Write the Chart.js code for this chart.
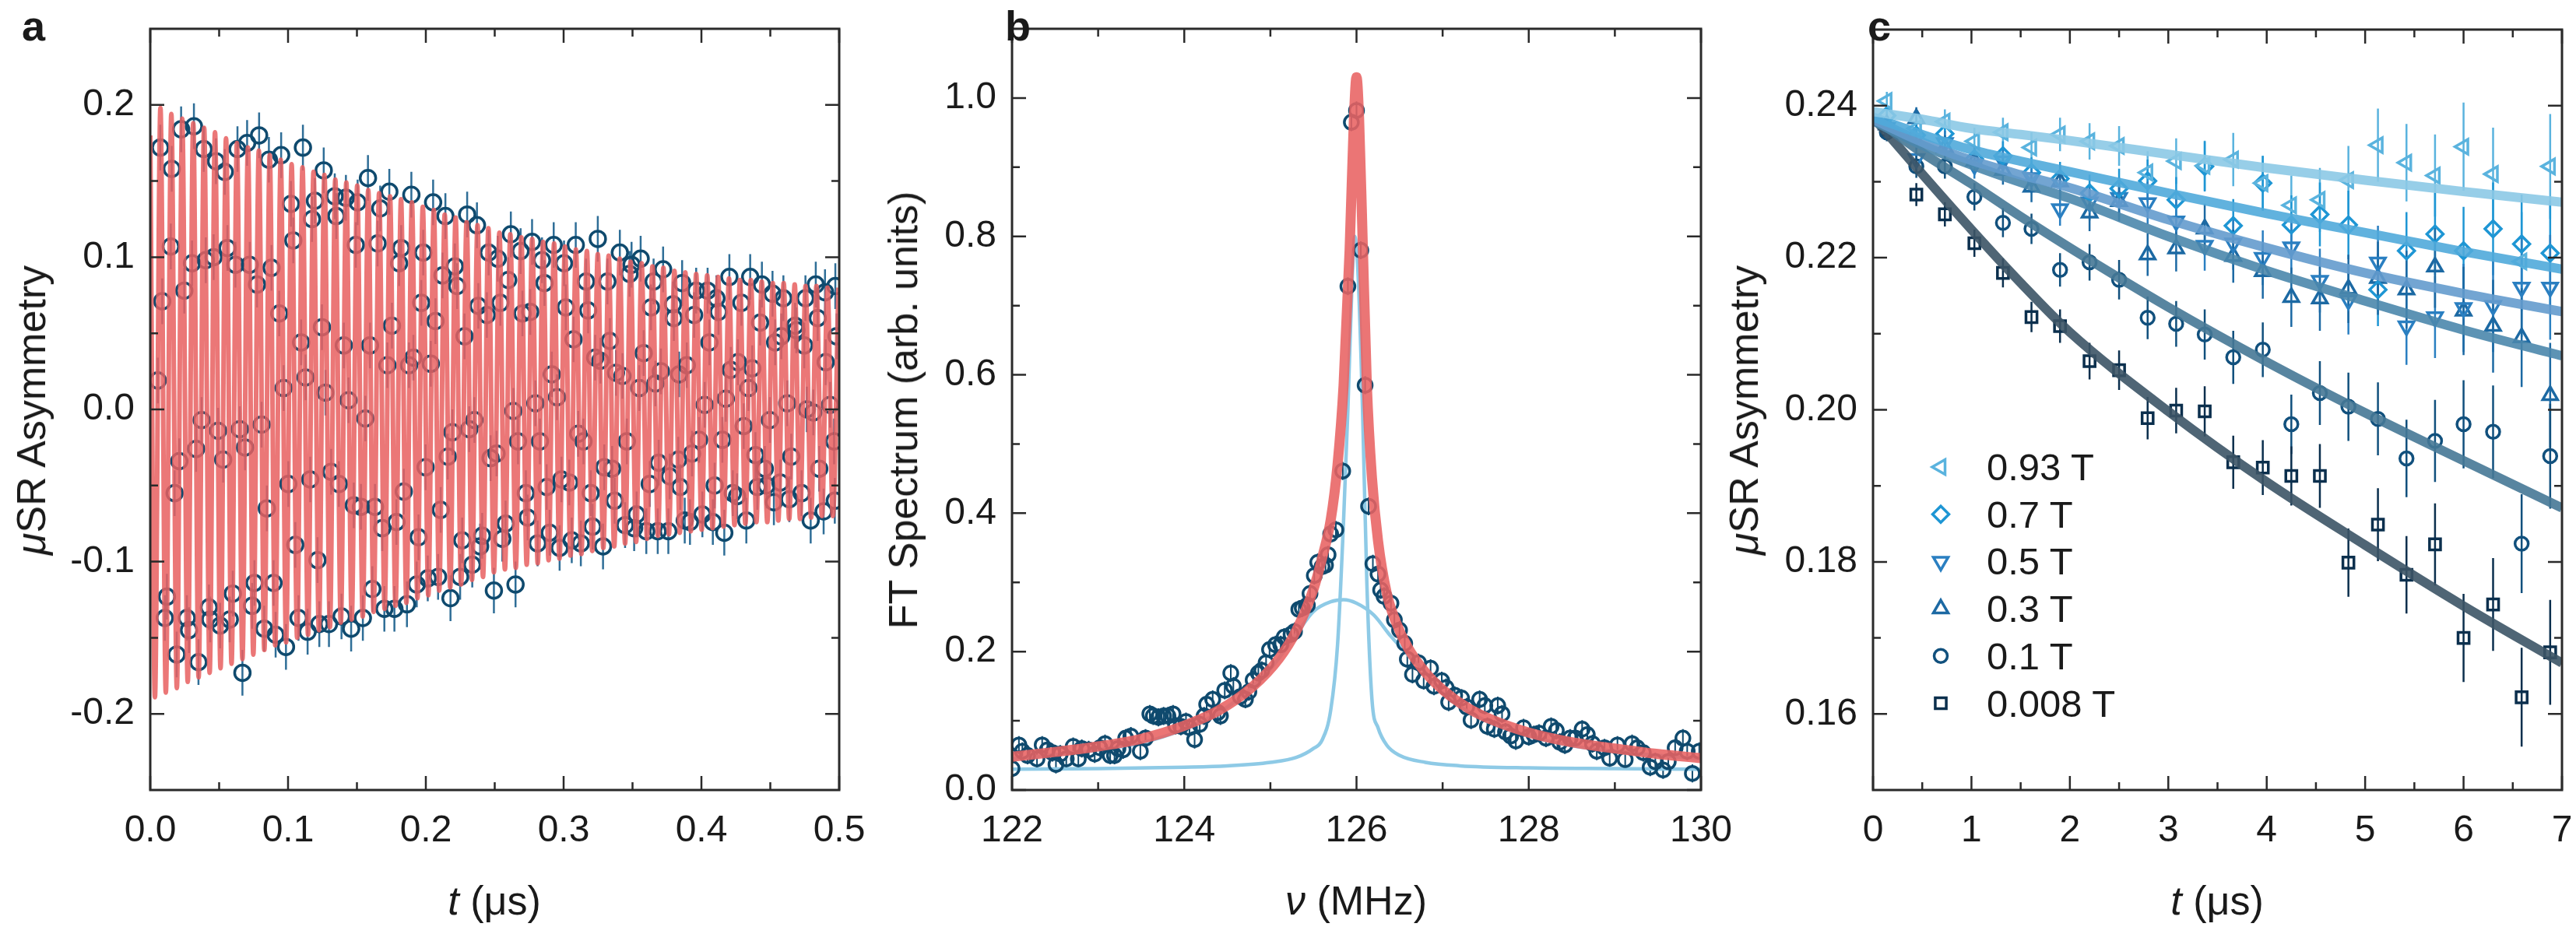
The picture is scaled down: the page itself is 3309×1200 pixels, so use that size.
<!DOCTYPE html>
<html>
<head>
<meta charset="utf-8">
<title>muSR precession, FT spectrum and field-dependent relaxation</title>
<script src="https://cdn.jsdelivr.net/npm/chart.js@4.4.1/dist/chart.umd.min.js"></script>
<style>
  html, body { margin: 0; background: #fff; overflow: hidden; }
  #page { position: relative; width: 3309px; height: 1200px; overflow: hidden;
          font-family: "Liberation Sans", Arial, Helvetica, sans-serif; color: #1a1a1a; }
  canvas { position: absolute; top: 0; }
  .letter { position: absolute; font-weight: bold; font-size: 54px; line-height: 54px; }
  .xtitle, .ytitle { position: absolute; font-size: 52px; line-height: 52px; white-space: nowrap;
          transform: translate(-50%, -50%); }
  .ytitle { transform: translate(-50%, -50%) rotate(-90deg); }
  .key { position: absolute; font-size: 49px; line-height: 49px; white-space: nowrap; }
</style>
</head>
<body>
<div id="page">
  <canvas id="chartA" width="1150" height="1200" style="left:0"></canvas>
  <canvas id="chartB" width="1150" height="1200" style="left:1100px"></canvas>
  <canvas id="chartC" width="1109" height="1200" style="left:2200px"></canvas>

  <div class="letter" style="left:28px;top:6px">a</div>
  <div class="letter" style="left:1291px;top:6px">b</div>
  <div class="letter" style="left:2399px;top:6px">c</div>

  <div class="ytitle" style="left:40px;top:527px"><i>μ</i>SR Asymmetry</div>
  <div class="xtitle" style="left:635px;top:1157px"><i>t</i> (μs)</div>
  <div class="ytitle" style="left:1160px;top:527px">FT Spectrum (arb. units)</div>
  <div class="xtitle" style="left:1742px;top:1157px"><i>ν</i> (MHz)</div>
  <div class="ytitle" style="left:2240px;top:527px"><i>μ</i>SR Asymmetry</div>
  <div class="xtitle" style="left:2848px;top:1157px"><i>t</i> (μs)</div>

  <div id="keys"></div>
</div>

<script>
// ---- panel a: transverse-field precession ----
const aTime = [
  0.0055, 0.0073, 0.0087, 0.0106, 0.0121, 0.0149, 0.0156, 0.0177, 0.0192, 0.0211,
  0.0224, 0.0247, 0.0266, 0.0281, 0.0303, 0.0317, 0.0333, 0.0350, 0.0373, 0.0388,
  0.0403, 0.0426, 0.0435, 0.0460, 0.0477, 0.0492, 0.0507, 0.0529, 0.0541, 0.0560,
  0.0577, 0.0599, 0.0618, 0.0633, 0.0650, 0.0669, 0.0688, 0.0703, 0.0722, 0.0739,
  0.0756, 0.0775, 0.0790, 0.0808, 0.0827, 0.0846, 0.0861, 0.0880, 0.0895, 0.0910,
  0.0936, 0.0950, 0.0968, 0.0985, 0.1002, 0.1021, 0.1038, 0.1053, 0.1076, 0.1095,
  0.1108, 0.1127, 0.1142, 0.1161, 0.1174, 0.1195, 0.1214, 0.1227, 0.1246, 0.1259,
  0.1272, 0.1297, 0.1313, 0.1339, 0.1350, 0.1369, 0.1388, 0.1405, 0.1420, 0.1439,
  0.1458, 0.1477, 0.1492, 0.1505, 0.1529, 0.1543, 0.1561, 0.1580, 0.1595, 0.1612,
  0.1631, 0.1650, 0.1669, 0.1684, 0.1699, 0.1721, 0.1735, 0.1754, 0.1772, 0.1787,
  0.1806, 0.1821, 0.1840, 0.1863, 0.1878, 0.1895, 0.1910, 0.1934, 0.1947, 0.1967,
  0.1981, 0.1998, 0.2014, 0.2036, 0.2053, 0.2070, 0.2089, 0.2108, 0.2121, 0.2142,
  0.2159, 0.2179, 0.2193, 0.2211, 0.2227, 0.2249, 0.2264, 0.2281, 0.2300, 0.2315,
  0.2337, 0.2353, 0.2371, 0.2381, 0.2394, 0.2409, 0.2443, 0.2456, 0.2470, 0.2494,
  0.2513, 0.2522, 0.2541, 0.2555, 0.2579, 0.2598, 0.2617, 0.2635, 0.2651, 0.2669,
  0.2688, 0.2701, 0.2726, 0.2739, 0.2758, 0.2771, 0.2795, 0.2811, 0.2828, 0.2843,
  0.2861, 0.2877, 0.2899, 0.2914, 0.2928, 0.2952, 0.2971, 0.2984, 0.3003, 0.3016,
  0.3041, 0.3059, 0.3072, 0.3088, 0.3106, 0.3125, 0.3144, 0.3163, 0.3178, 0.3197,
  0.3210, 0.3229, 0.3248, 0.3267, 0.3286, 0.3295, 0.3318, 0.3336, 0.3352, 0.3370,
  0.3380, 0.3408, 0.3427, 0.3446, 0.3459, 0.3479, 0.3493, 0.3512, 0.3530, 0.3549,
  0.3559, 0.3581, 0.3600, 0.3625, 0.3634, 0.3653, 0.3666, 0.3683, 0.3690, 0.3706,
  0.3722, 0.3760, 0.3770, 0.3794, 0.3800, 0.3832, 0.3838, 0.3846, 0.3860, 0.3879,
  0.3894, 0.3917, 0.3932, 0.3947, 0.3962, 0.3983, 0.4007, 0.4024, 0.4045, 0.4058,
  0.4083, 0.4096, 0.4109, 0.4124, 0.4152, 0.4166, 0.4177, 0.4203, 0.4213, 0.4228,
  0.4259, 0.4265, 0.4290, 0.4307, 0.4326, 0.4341, 0.4354, 0.4369, 0.4392, 0.4406,
  0.4426, 0.4439, 0.4460, 0.4473, 0.4497, 0.4516, 0.4526, 0.4535, 0.4573, 0.4580,
  0.4595, 0.4623, 0.4638, 0.4652, 0.4680, 0.4689, 0.4727, 0.4746, 0.4755, 0.4765,
  0.4793, 0.4812, 0.4830, 0.4844, 0.4855, 0.4887, 0.4897, 0.4902, 0.4934, 0.4963,
  0.4968, 0.4972, 0.4981
];
const aAsym = [
  0.019, 0.172, 0.071, -0.137, -0.123, 0.107, 0.158, -0.055, -0.161, -0.034,
  0.184, 0.078, -0.137, -0.145, 0.096, 0.186, -0.026, -0.166, -0.007, 0.171,
  0.098, -0.130, -0.138, 0.100, 0.163, -0.014, -0.142, -0.033, 0.156, 0.106,
  -0.138, -0.121, 0.095, 0.171, -0.013, -0.173, -0.025, 0.175, 0.095, -0.129,
  -0.114, 0.082, 0.180, -0.010, -0.144, -0.065, 0.164, 0.093, -0.114, -0.148,
  0.063, 0.167, 0.014, -0.156, -0.049, 0.135, 0.111, -0.089, -0.137, 0.044,
  0.172, 0.021, -0.146, -0.046, 0.125, 0.137, -0.099, -0.141, 0.054, 0.157,
  0.011, -0.141, -0.041, 0.140, 0.127, -0.049, -0.136, 0.042, 0.139, 0.006,
  -0.144, -0.063, 0.108, 0.136, -0.064, -0.137, -0.006, 0.152, 0.042, -0.118,
  -0.064, 0.109, 0.132, -0.078, -0.131, 0.029, 0.143, 0.055, -0.131, -0.074,
  0.096, 0.106, -0.054, -0.128, 0.029, 0.141, 0.034, -0.115, -0.084, 0.070,
  0.103, -0.038, -0.111, 0.030, 0.136, 0.058, -0.110, -0.066, 0.088, 0.127,
  -0.031, -0.124, -0.015, 0.094, 0.081, -0.110, -0.086, 0.048, 0.128, -0.013,
  -0.102, -0.007, 0.121, 0.068, -0.090, -0.083, 0.062, 0.103, -0.032, -0.119,
  -0.029, 0.099, 0.070, -0.085, -0.075, 0.085, 0.115, -0.001, -0.115, -0.021,
  0.104, 0.063, -0.055, -0.071, 0.064, 0.110, 0.004, -0.088, -0.021, 0.098,
  0.083, -0.051, -0.081, 0.023, 0.108, 0.008, -0.091, -0.046, 0.096, 0.067,
  -0.048, -0.086, 0.046, 0.108, -0.016, -0.088, -0.021, 0.084, 0.065, -0.055,
  -0.077, 0.034, 0.112, 0.032, -0.090, -0.038, 0.084, 0.045, -0.039, -0.060,
  0.024, 0.103, 0.022, -0.076, -0.021, 0.089, 0.095, -0.078, -0.069, 0.014,
  0.099, 0.037, -0.080, -0.049, 0.067, 0.084, 0.017, -0.080, -0.035, 0.025,
  0.092, -0.080, -0.044, 0.069, 0.060, -0.033, 0.023, -0.051, 0.083, -0.073,
  0.029, -0.074, -0.029, 0.062, 0.078, -0.020, -0.069, 0.003, 0.078, 0.044,
  -0.074, -0.050, 0.073, 0.064, -0.020, -0.081, 0.007, 0.087, 0.026, -0.055,
  -0.057, 0.031, 0.070, -0.011, -0.073, 0.014, 0.087, 0.027, -0.030, -0.051,
  0.057, 0.082, -0.039, -0.050, -0.007, 0.076, -0.061, 0.044, -0.048, 0.048,
  0.073, 0.004, -0.059, -0.031, 0.055, 0.052, -0.055, 0.042, 0.073, 0.000,
  -0.073, -0.002, 0.082, 0.060, -0.039, -0.067, 0.077, 0.031, 0.003, -0.021,
  -0.060, 0.081, 0.048
];
const aErr = 0.015;
// fit curve, read at its turning points
const aFitTime = [
  0.0000, 0.0034, 0.0074, 0.0113, 0.0153, 0.0193, 0.0232, 0.0272, 0.0312, 0.0351,
  0.0391, 0.0431, 0.0470, 0.0510, 0.0550, 0.0590, 0.0629, 0.0669, 0.0709, 0.0748,
  0.0788, 0.0828, 0.0867, 0.0907, 0.0947, 0.0986, 0.1026, 0.1066, 0.1105, 0.1145,
  0.1185, 0.1224, 0.1264, 0.1304, 0.1343, 0.1383, 0.1423, 0.1462, 0.1502, 0.1542,
  0.1582, 0.1621, 0.1661, 0.1701, 0.1740, 0.1780, 0.1820, 0.1859, 0.1899, 0.1939,
  0.1978, 0.2018, 0.2058, 0.2097, 0.2137, 0.2177, 0.2216, 0.2256, 0.2296, 0.2335,
  0.2375, 0.2415, 0.2454, 0.2494, 0.2534, 0.2574, 0.2613, 0.2653, 0.2693, 0.2732,
  0.2772, 0.2812, 0.2851, 0.2891, 0.2931, 0.2970, 0.3010, 0.3050, 0.3089, 0.3129,
  0.3169, 0.3208, 0.3248, 0.3288, 0.3327, 0.3367, 0.3407, 0.3446, 0.3486, 0.3526,
  0.3566, 0.3605, 0.3645, 0.3685, 0.3724, 0.3764, 0.3804, 0.3843, 0.3883, 0.3923,
  0.3962, 0.4002, 0.4042, 0.4081, 0.4121, 0.4161, 0.4200, 0.4240, 0.4280, 0.4319,
  0.4359, 0.4399, 0.4438, 0.4478, 0.4518, 0.4558, 0.4597, 0.4637, 0.4677, 0.4716,
  0.4756, 0.4796, 0.4835, 0.4875, 0.4915, 0.4954, 0.4994
];
const aFitAsym = [
  0.180, -0.189, 0.198, -0.186, 0.194, -0.183, 0.191, -0.179, 0.188, -0.176,
  0.185, -0.173, 0.182, -0.170, 0.178, -0.167, 0.175, -0.164, 0.172, -0.161,
  0.170, -0.158, 0.167, -0.155, 0.164, -0.153, 0.161, -0.150, 0.159, -0.148,
  0.156, -0.145, 0.154, -0.143, 0.151, -0.140, 0.149, -0.138, 0.147, -0.136,
  0.144, -0.133, 0.142, -0.131, 0.140, -0.129, 0.138, -0.127, 0.136, -0.124,
  0.133, -0.122, 0.131, -0.119, 0.128, -0.117, 0.126, -0.115, 0.123, -0.112,
  0.121, -0.110, 0.119, -0.107, 0.116, -0.105, 0.115, -0.104, 0.113, -0.102,
  0.112, -0.101, 0.110, -0.099, 0.109, -0.098, 0.107, -0.096, 0.105, -0.095,
  0.104, -0.093, 0.102, -0.091, 0.101, -0.090, 0.099, -0.088, 0.097, -0.087,
  0.096, -0.085, 0.094, -0.083, 0.093, -0.082, 0.091, -0.081, 0.090, -0.080,
  0.089, -0.079, 0.088, -0.078, 0.087, -0.077, 0.086, -0.076, 0.085, -0.075,
  0.085, -0.074, 0.084, -0.074, 0.083, -0.073, 0.083, -0.072, 0.082, -0.072,
  0.081, -0.071, 0.081, -0.070, 0.080, -0.070, 0.080
];
const aTicksX = [0, 0.1, 0.2, 0.3, 0.4, 0.5];
const aMinorX = [0.05, 0.15, 0.25, 0.35, 0.45];
const aTicksY = [-0.2, -0.1, 0, 0.1, 0.2];
const aMinorY = [-0.15, -0.05, 0.05, 0.15];

// ---- panel b: Fourier spectrum ----
const bFreq = [
  122.00, 122.08, 122.12, 122.18, 122.29, 122.35, 122.41, 122.47, 122.51, 122.56,
  122.63, 122.71, 122.77, 122.81, 122.89, 122.96, 123.02, 123.08, 123.14, 123.19,
  123.23, 123.29, 123.32, 123.38, 123.49, 123.55, 123.60, 123.64, 123.70, 123.76,
  123.81, 123.87, 123.90, 123.96, 124.02, 124.06, 124.12, 124.18, 124.23, 124.26,
  124.33, 124.39, 124.42, 124.47, 124.54, 124.57, 124.65, 124.71, 124.75, 124.80,
  124.86, 124.90, 124.95, 124.99, 125.06, 125.12, 125.16, 125.24, 125.28, 125.33,
  125.37, 125.43, 125.46, 125.51, 125.55, 125.60, 125.64, 125.67, 125.70, 125.76,
  125.84, 125.90, 125.94, 126.00, 126.05, 126.10, 126.14, 126.19, 126.25, 126.28,
  126.32, 126.40, 126.44, 126.50, 126.56, 126.59, 126.65, 126.72, 126.78, 126.86,
  126.90, 126.99, 127.04, 127.07, 127.14, 127.22, 127.28, 127.33, 127.43, 127.49,
  127.52, 127.60, 127.64, 127.69, 127.73, 127.79, 127.85, 127.94, 128.00, 128.06,
  128.12, 128.20, 128.26, 128.32, 128.36, 128.42, 128.48, 128.54, 128.62, 128.68,
  128.74, 128.79, 128.88, 128.94, 129.03, 129.12, 129.20, 129.26, 129.33, 129.41,
  129.47, 129.56, 129.62, 129.70, 129.79, 129.84, 129.90, 129.98
];
const bAmp = [
  0.031, 0.065, 0.056, 0.050, 0.045, 0.065, 0.058, 0.054, 0.037, 0.052,
  0.045, 0.063, 0.045, 0.060, 0.058, 0.052, 0.061, 0.067, 0.050, 0.050,
  0.060, 0.058, 0.075, 0.078, 0.056, 0.075, 0.110, 0.107, 0.105, 0.107,
  0.107, 0.110, 0.093, 0.092, 0.099, 0.090, 0.073, 0.095, 0.107, 0.124,
  0.131, 0.112, 0.107, 0.144, 0.169, 0.150, 0.135, 0.131, 0.142, 0.159,
  0.169, 0.173, 0.184, 0.203, 0.210, 0.210, 0.221, 0.225, 0.229, 0.261,
  0.263, 0.267, 0.284, 0.310, 0.329, 0.323, 0.325, 0.340, 0.370, 0.376,
  0.461, 0.728, 0.965, 0.982, 0.780, 0.585, 0.410, 0.327, 0.312, 0.289,
  0.280, 0.270, 0.246, 0.231, 0.212, 0.189, 0.167, 0.184, 0.158, 0.176,
  0.150, 0.158, 0.148, 0.127, 0.137, 0.133, 0.120, 0.101, 0.131, 0.122,
  0.092, 0.088, 0.122, 0.110, 0.084, 0.078, 0.071, 0.090, 0.077, 0.080,
  0.082, 0.075, 0.092, 0.086, 0.069, 0.065, 0.075, 0.075, 0.088, 0.080,
  0.067, 0.056, 0.061, 0.046, 0.065, 0.044, 0.067, 0.061, 0.054, 0.033,
  0.041, 0.029, 0.041, 0.061, 0.075, 0.056, 0.024, 0.056
];
const bErr = 0.013;
const bFitFreq = [122.0, 122.5, 123.0, 123.5, 124.0, 124.4, 124.8, 125.1, 125.3, 125.5,
  125.6, 125.7, 125.78, 125.85, 125.92, 125.97, 126.0, 126.03, 126.07, 126.12,
  126.18, 126.25, 126.35, 126.45, 126.6, 126.8, 127.0, 127.3, 127.6, 128.0,
  128.5, 129.0, 129.5, 130.0];
const bFitAmp = [0.048, 0.055, 0.063, 0.074, 0.093, 0.115, 0.150, 0.190, 0.230, 0.290,
  0.335, 0.390, 0.470, 0.585, 0.780, 0.970, 1.030, 0.970, 0.800, 0.585,
  0.450, 0.360, 0.285, 0.245, 0.205, 0.170, 0.145, 0.118, 0.100, 0.083,
  0.069, 0.060, 0.052, 0.046];
const bNarrowFreq = [122.0, 123.0, 124.0, 124.5, 125.0, 125.3, 125.5, 125.6, 125.7, 125.78,
  125.85, 125.9, 125.95, 125.98, 126.02, 126.07, 126.12, 126.18, 126.25, 126.35,
  126.5, 126.8, 127.2, 128.0, 129.0, 130.0];
const bNarrowAmp = [0.030, 0.031, 0.033, 0.035, 0.040, 0.047, 0.060, 0.072, 0.115, 0.210,
  0.390, 0.550, 0.740, 0.800, 0.740, 0.550, 0.300, 0.130, 0.090, 0.065,
  0.050, 0.040, 0.035, 0.032, 0.031, 0.030];
const bBroadFreq = [122.0, 123.0, 123.5, 124.0, 124.5, 125.0, 125.3, 125.5, 125.7, 125.85,
  126.0, 126.2, 126.4, 126.6, 126.8, 127.0, 127.5, 128.0, 128.5, 129.0, 129.5, 130.0];
const bBroadAmp = [0.045, 0.058, 0.068, 0.088, 0.120, 0.175, 0.225, 0.258, 0.272, 0.275,
  0.270, 0.253, 0.222, 0.195, 0.170, 0.140, 0.100, 0.078, 0.064, 0.056, 0.050, 0.045];
const bTicksX = [122, 124, 126, 128, 130];
const bMinorX = [123, 125, 127, 129];
const bTicksY = [0, 0.2, 0.4, 0.6, 0.8, 1.0];
const bMinorY = [0.1, 0.3, 0.5, 0.7, 0.9];

// ---- panel c: relaxation at several fields ----
const cFields = ['0.93 T', '0.7 T', '0.5 T', '0.3 T', '0.1 T', '0.008 T'];
const cTime = [0.14, 0.44, 0.73, 1.03, 1.32, 1.61, 1.90, 2.20, 2.50, 2.79, 3.08, 3.37,
  3.66, 3.96, 4.25, 4.54, 4.83, 5.13, 5.42, 5.71, 6.00, 6.30, 6.59, 6.88];
const cErr = [0.0012, 0.0015, 0.0016, 0.0018, 0.0019, 0.0020, 0.0022, 0.0024, 0.0026, 0.0028, 0.0030, 0.0033,
  0.0035, 0.0036, 0.0039, 0.0042, 0.0045, 0.0048, 0.0051, 0.0054, 0.0058, 0.0061, 0.0065, 0.0069];
const cAsym093 = [0.2406, 0.2370, 0.2379, 0.2353, 0.2365, 0.2345, 0.2362, 0.2353, 0.2347, 0.2312, 0.2327, 0.2321,
  0.2329, 0.2298, 0.2269, 0.2276, 0.2302, 0.2348, 0.2325, 0.2308, 0.2346, 0.2310, 0.2195, 0.2320];
const cAsym07 = [0.2387, 0.2361, 0.2363, 0.2330, 0.2334, 0.2312, 0.2304, 0.2285, 0.2291, 0.2301, 0.2276, 0.2320,
  0.2242, 0.2298, 0.2243, 0.2257, 0.2243, 0.2158, 0.2209, 0.2231, 0.2209, 0.2238, 0.2218, 0.2206];
const cAsym05 = [0.2371, 0.2330, 0.2351, 0.2322, 0.2327, 0.2305, 0.2264, 0.2273, 0.2279, 0.2272, 0.2248, 0.2216,
  0.2219, 0.2200, 0.2214, 0.2170, 0.2144, 0.2194, 0.2110, 0.2122, 0.2134, 0.2137, 0.2161, 0.2161];
const cAsym03 = [0.2375, 0.2383, 0.2345, 0.2327, 0.2315, 0.2293, 0.2300, 0.2259, 0.2274, 0.2204, 0.2212, 0.2238,
  0.2202, 0.2182, 0.2148, 0.2146, 0.2159, 0.2173, 0.2158, 0.2188, 0.2130, 0.2110, 0.2095, 0.2019];
const cAsym01 = [0.2365, 0.2320, 0.2320, 0.2280, 0.2246, 0.2238, 0.2184, 0.2194, 0.2171, 0.2121, 0.2113, 0.2099,
  0.2069, 0.2079, 0.1981, 0.2022, 0.2004, 0.1988, 0.1936, 0.1959, 0.1981, 0.1971, 0.1824, 0.1939];
const cAsym0008 = [0.2368, 0.2283, 0.2257, 0.2219, 0.2180, 0.2122, 0.2110, 0.2064, 0.2052, 0.1989, 0.1999, 0.1998,
  0.1931, 0.1924, 0.1913, 0.1913, 0.1799, 0.1849, 0.1783, 0.1823, 0.1700, 0.1744, 0.1622, 0.1681];
const cFitTime = [0, 0.5, 1, 1.5, 2, 3, 4, 5, 6, 7];
const cFit093 = [0.2392, 0.2382, 0.2370, 0.2362, 0.2354, 0.2336, 0.2318, 0.2302, 0.2287, 0.2273];
const cFit07 = [0.2385, 0.2362, 0.2342, 0.2327, 0.2313, 0.2285, 0.2258, 0.2233, 0.2208, 0.2185];
const cFit05 = [0.2382, 0.2352, 0.2328, 0.2309, 0.2292, 0.2250, 0.2213, 0.2180, 0.2153, 0.2129];
const cFit03 = [0.2380, 0.2348, 0.2322, 0.2299, 0.2278, 0.2228, 0.2183, 0.2143, 0.2105, 0.2071];
const cFit01 = [0.2385, 0.2338, 0.2297, 0.2254, 0.2213, 0.2135, 0.2063, 0.1996, 0.1933, 0.1871];
const cFit0008 = [0.2385, 0.2310, 0.2237, 0.2167, 0.2102, 0.1998, 0.1905, 0.1822, 0.1742, 0.1667];
const cTicksX = [0, 1, 2, 3, 4, 5, 6, 7];
const cMinorX = [0.5, 1.5, 2.5, 3.5, 4.5, 5.5, 6.5];
const cTicksY = [0.16, 0.18, 0.20, 0.22, 0.24];
const cMinorY = [0.17, 0.19, 0.21, 0.23];

// look of each field series (marker, colour, fit line colour)
const cLook = [
  { mark: '#5ab3de', line: 'rgba(140,201,230,0.9)', style: 'triangle', rot: -90, r: 11 },
  { mark: '#1e96d4', line: 'rgba(80,170,218,0.9)', style: 'rectRot', rot: 0, r: 10.5 },
  { mark: '#2a7fc1', line: 'rgba(100,155,205,0.9)', style: 'triangle', rot: 180, r: 11 },
  { mark: '#1c69a3', line: 'rgba(75,135,172,0.9)', style: 'triangle', rot: 0, r: 11 },
  { mark: '#11507d', line: 'rgba(70,120,150,0.9)', style: 'circle', rot: 0, r: 8.5 },
  { mark: '#0b2f4d', line: 'rgba(60,84,102,0.9)', style: 'rect', rot: 0, r: 10 }
];

const FONT = '"Liberation Sans", Arial, Helvetica, sans-serif';
Chart.defaults.font.family = FONT;
Chart.defaults.color = '#1a1a1a';

const pairs = (xs, ys) => xs.map((x, i) => ({ x: x, y: ys[i] }));

function axis(min, max, ticks, digits, size, isX) {
  return {
    type: 'linear', min: min, max: max,
    grid: { display: false, drawTicks: false },
    border: { display: false },
    ticks: {
      autoSkip: false, maxRotation: 0, padding: isX ? 24 : 20,
      font: { size: 48 }, color: '#1a1a1a',
      callback: v => v.toFixed(digits)
    },
    afterBuildTicks: s => { s.ticks = ticks.map(v => ({ value: v })); },
    afterFit: s => {
      if (isX) s.height = size; else s.width = size;
      s.paddingLeft = s.paddingRight = s.paddingTop = s.paddingBottom = 0;
    }
  };
}

// box frame with inward ticks on all four sides
const frameTicks = {
  id: 'frameTicks',
  afterDatasetsDraw(chart, args, opts) {
    const { ctx, chartArea: a, scales: { x, y } } = chart;
    ctx.save();
    ctx.strokeStyle = '#2a2a2a';
    ctx.lineWidth = 2.5;
    ctx.beginPath();
    [[x.ticks.map(t => t.value), 18], [opts.minorX || [], 10]].forEach(([vals, len]) => vals.forEach(v => {
      const px = x.getPixelForValue(v);
      ctx.moveTo(px, a.bottom); ctx.lineTo(px, a.bottom - len);
      ctx.moveTo(px, a.top); ctx.lineTo(px, a.top + len);
    }));
    [[y.ticks.map(t => t.value), 18], [opts.minorY || [], 10]].forEach(([vals, len]) => vals.forEach(v => {
      const py = y.getPixelForValue(v);
      ctx.moveTo(a.left, py); ctx.lineTo(a.left + len, py);
      ctx.moveTo(a.right, py); ctx.lineTo(a.right - len, py);
    }));
    ctx.stroke();
    ctx.lineWidth = 3;
    ctx.strokeRect(a.left, a.top, a.width, a.height);
    ctx.restore();
  }
};

// vertical error bars for datasets carrying an "errors" field
const errorBars = {
  id: 'errorBars',
  beforeDatasetsDraw(chart) {
    const { ctx, chartArea: a, scales: { x, y } } = chart;
    ctx.save();
    ctx.beginPath(); ctx.rect(a.left, a.top, a.width, a.height); ctx.clip();
    chart.data.datasets.forEach(ds => {
      if (!ds.errors) return;
      ctx.strokeStyle = ds.errColor || ds.borderColor;
      ctx.lineWidth = ds.errWidth || 2;
      ctx.beginPath();
      ds.data.forEach((p, i) => {
        const e = Array.isArray(ds.errors) ? ds.errors[i] : ds.errors;
        const px = x.getPixelForValue(p.x);
        ctx.moveTo(px, y.getPixelForValue(p.y - e));
        ctx.lineTo(px, y.getPixelForValue(p.y + e));
      });
      ctx.stroke();
    });
    ctx.restore();
  }
};

function baseOptions(xAxis, yAxis, pad, minorX, minorY) {
  return {
    responsive: false, animation: false, devicePixelRatio: 1,
    layout: { padding: pad },
    scales: { x: xAxis, y: yAxis },
    plugins: { legend: { display: false }, tooltip: { enabled: false }, frameTicks: { minorX: minorX, minorY: minorY } }
  };
}

// panel a
new Chart(document.getElementById('chartA'), {
  type: 'scatter',
  data: {
    datasets: [
      { data: pairs(aFitTime, aFitAsym), showLine: true, pointRadius: 0, borderColor: 'rgba(232,95,95,0.85)',
        borderWidth: 6, cubicInterpolationMode: 'monotone', order: 0 },
      { data: pairs(aTime, aAsym), pointStyle: 'circle', pointRadius: 10, borderWidth: 3.5,
        borderColor: '#0f4a6e', backgroundColor: 'rgba(255,255,255,0)',
        errors: aErr, errColor: '#2f6e97', errWidth: 2.5, order: 1 }
    ]
  },
  options: baseOptions(axis(0, 0.5, aTicksX, 1, 185, true), axis(-0.25, 0.25, aTicksY, 1, 193, false),
    { top: 37, right: 72, left: 0, bottom: 0 }, aMinorX, aMinorY),
  plugins: [errorBars, frameTicks]
});

// panel b
new Chart(document.getElementById('chartB'), {
  type: 'scatter',
  data: {
    datasets: [
      { data: pairs(bFitFreq, bFitAmp), showLine: true, pointRadius: 0, borderColor: 'rgba(232,98,98,0.88)',
        borderWidth: 13, cubicInterpolationMode: 'monotone', order: 0 },
      { data: pairs(bFreq, bAmp), pointStyle: 'circle', pointRadius: 9, borderWidth: 3.5,
        borderColor: '#0f4a6e', backgroundColor: 'rgba(255,255,255,0)',
        errors: bErr, errColor: '#0f4a6e', errWidth: 2, order: 1 },
      { data: pairs(bNarrowFreq, bNarrowAmp), showLine: true, pointRadius: 0, borderColor: '#8ecae6',
        borderWidth: 4.5, cubicInterpolationMode: 'monotone', order: 2 },
      { data: pairs(bBroadFreq, bBroadAmp), showLine: true, pointRadius: 0, borderColor: '#8ecae6',
        borderWidth: 4.5, cubicInterpolationMode: 'monotone', order: 2 }
    ]
  },
  options: baseOptions(axis(122, 130, bTicksX, 0, 185, true), axis(0, 1.1, bTicksY, 1, 200, false),
    { top: 37, right: 65, left: 0, bottom: 0 }, bMinorX, bMinorY),
  plugins: [errorBars, frameTicks]
});

// panel c
const cValues = [cAsym093, cAsym07, cAsym05, cAsym03, cAsym01, cAsym0008];
const cFits = [cFit093, cFit07, cFit05, cFit03, cFit01, cFit0008];
const cDatasets = [];
cValues.forEach((vals, i) => {
  const look = cLook[i];
  cDatasets.push({ label: cFields[i], data: pairs(cTime, vals), pointStyle: look.style, pointRotation: look.rot,
    pointRadius: look.r, borderWidth: 3.5, borderColor: look.mark, backgroundColor: 'rgba(255,255,255,0)',
    errors: cErr, errColor: look.mark, errWidth: 2.5, order: 1 });
  cDatasets.push({ data: pairs(cFitTime, cFits[i]), showLine: true, pointRadius: 0, borderColor: look.line,
    borderWidth: 12, cubicInterpolationMode: 'monotone', order: 0 });
});

function drawMarker(ctx, style, x, y, r, rot) {
  ctx.save();
  ctx.translate(x, y);
  ctx.rotate(rot * Math.PI / 180);
  ctx.beginPath();
  if (style === 'circle') ctx.arc(0, 0, r, 0, 2 * Math.PI);
  else if (style === 'rect') { const s = r * Math.SQRT1_2; ctx.rect(-s, -s, 2 * s, 2 * s); }
  else if (style === 'rectRot') { ctx.moveTo(0, -r); ctx.lineTo(r, 0); ctx.lineTo(0, r); ctx.lineTo(-r, 0); ctx.closePath(); }
  else { ctx.moveTo(0, -r); ctx.lineTo(r * 0.866, r * 0.5); ctx.lineTo(-r * 0.866, r * 0.5); ctx.closePath(); }
  ctx.stroke();
  ctx.restore();
}

const KEY_X = 293, KEY_Y0 = 600, KEY_DY = 60.7, KEY_TEXT_X = 2552;
const keyMarkers = {
  id: 'keyMarkers',
  afterDraw(chart) {
    const ctx = chart.ctx;
    ctx.lineWidth = 3.5;
    cLook.forEach((look, i) => {
      ctx.strokeStyle = look.mark;
      drawMarker(ctx, look.style, KEY_X, KEY_Y0 + i * KEY_DY, look.r, look.rot);
    });
  }
};

new Chart(document.getElementById('chartC'), {
  type: 'scatter',
  data: { datasets: cDatasets },
  options: baseOptions(axis(0, 7, cTicksX, 0, 185, true), axis(0.15, 0.25, cTicksY, 2, 206, false),
    { top: 38, right: 18, left: 0, bottom: 0 }, cMinorX, cMinorY),
  plugins: [errorBars, frameTicks, keyMarkers]
});

// legend labels as text
const keys = document.getElementById('keys');
cFields.forEach((name, i) => {
  const d = document.createElement('div');
  d.className = 'key';
  d.style.left = KEY_TEXT_X + 'px';
  d.style.top = (KEY_Y0 + i * KEY_DY - 24) + 'px';
  d.textContent = name;
  keys.appendChild(d);
});
</script>
</body>
</html>
